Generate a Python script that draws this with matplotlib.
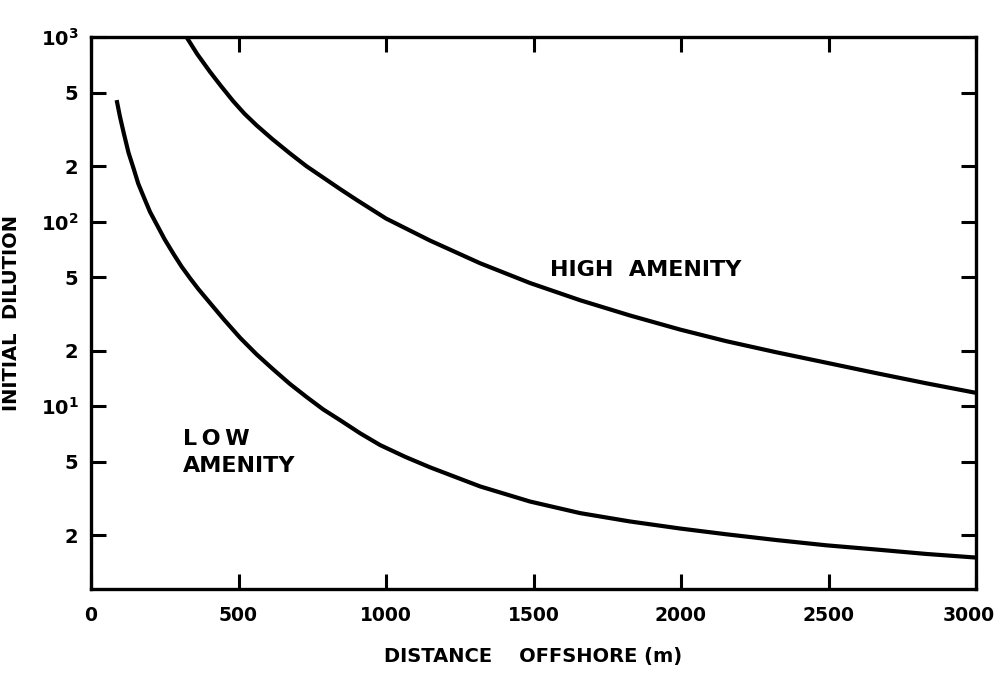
import matplotlib
matplotlib.use("Agg")
import matplotlib.pyplot as plt
import matplotlib.transforms as mtransforms
from matplotlib.ticker import FixedLocator

# distance offshore (m) and initial dilution
high_x = [324, 360, 403, 440, 482, 520, 562, 615, 675, 730, 788, 845, 901, 1000, 1149, 1319, 1488, 1658,
          1827, 1997, 2153, 2322, 2492, 2661, 2831, 3000]
high_y = [1000, 810, 650, 545, 450, 385, 332, 280, 234, 200, 173, 150, 131, 104, 79, 59.5, 46.5, 37.5,
          31, 26, 22.5, 19.6, 17.2, 15.1, 13.3, 11.8]

low_x = [87, 98, 110, 127, 144, 160, 178, 200, 223, 250, 279, 307, 336, 364, 392, 448, 505, 561, 618,
         674, 731, 787, 844, 912, 980, 1065, 1149, 1319, 1488, 1658, 1827, 1997, 2153, 2322, 2492, 2661,
         2831, 3000]
low_y = [456, 372, 307, 237, 195, 161, 137, 113, 96.4, 80, 67.1, 57.1, 49.3, 43.1, 38.1, 29.8, 23.5, 19.1, 15.8,
         13.2, 11.2, 9.6, 8.4, 7.13, 6.15, 5.31, 4.66, 3.67, 3.04, 2.63, 2.37, 2.17, 2.02, 1.88, 1.76, 1.67,
         1.58, 1.51]

x_ticks = [0, 500, 1000, 1500, 2000, 2500, 3000]
y_major = [10, 100, 1000]
y_minor = [2, 5, 20, 50, 200, 500]

plt.rcParams['font.family'] = ['DejaVu Sans']
plt.rcParams['font.weight'] = 'bold'

fig = plt.figure(figsize=(10, 6.76), dpi=100)
ax = fig.add_axes([0.091, 0.1287, 0.885, 0.8163])

ax.plot(high_x, high_y, color='black', lw=3.0, solid_capstyle='butt', solid_joinstyle='round')
ax.plot(low_x, low_y, color='black', lw=3.0, solid_capstyle='butt', solid_joinstyle='round')

ax.set_yscale('log')
ax.set_xlim(0, 3000)
ax.set_ylim(1.02, 1000)

ax.xaxis.set_major_locator(FixedLocator(x_ticks))
ax.set_xticklabels([str(v) for v in x_ticks])
ax.yaxis.set_major_locator(FixedLocator(y_major))
ax.yaxis.set_minor_locator(FixedLocator(y_minor))
ax.set_yticklabels([r'$\mathbf{10^{1}}$', r'$\mathbf{10^{2}}$', r'$\mathbf{10^{3}}$'])
ax.set_yticklabels([str(v)[0] for v in y_minor], minor=True)

for side in ax.spines.values():
    side.set_linewidth(2.4)

ax.tick_params(which='both', direction='in', top=True, right=True,
               length=11, width=2.2, labelsize=14, pad=9)
ax.tick_params(axis='x', pad=12, labelsize=13.5)

# last x label sits a little left so it stays inside the picture
shift = mtransforms.ScaledTranslation(-5 / 72, 0, fig.dpi_scale_trans)
last = ax.get_xticklabels()[-1]
last.set_transform(last.get_transform() + shift)

ax.set_xlabel('DISTANCE    OFFSHORE (m)', fontsize=14, fontweight='bold', labelpad=16)
ax.set_ylabel('INITIAL  DILUTION', fontsize=14, fontweight='bold', labelpad=14)

ax.text(1556, 55, 'HIGH  AMENITY', fontsize=16, fontweight='bold', ha='left', va='center')
ax.text(312, 5.6, 'L\u2009O\u2009W\nAMENITY', fontsize=16, fontweight='bold', ha='left', va='center',
        linespacing=1.45)

fig.savefig('out.png', dpi=100)
